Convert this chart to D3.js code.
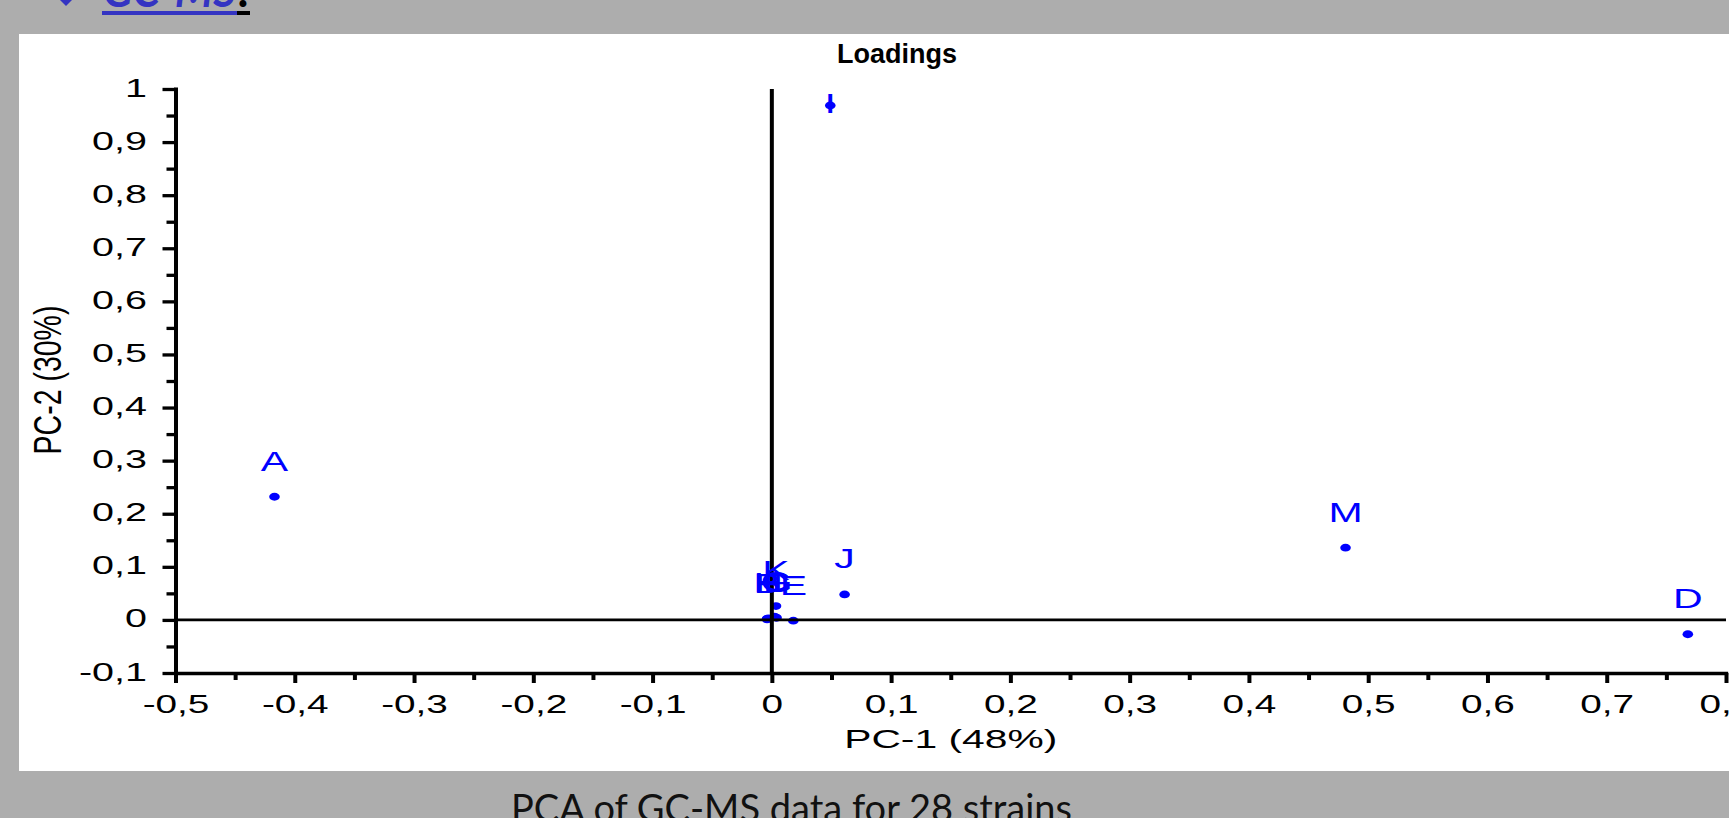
<!DOCTYPE html>
<html>
<head>
<meta charset="utf-8">
<script src="https://cdn.jsdelivr.net/npm/d3@7"></script>
<style>
  body { margin: 0; background: #adadad; overflow: hidden; }
  svg { display: block; }
</style>
</head>
<body>
<div id="chart"></div>
<script>
// loadings (variable names, PC-1, PC-2)
var names = ["A", "B", "C", "D", "E", "F", "G", "H", "I", "J", "K", "L", "M"];
var pc1 = [-0.417, -0.004, 0.003, 0.768, 0.018, -0.004, 0.004, -0.003, 0.049, 0.061, 0.0035, 0.002, 0.481];
var pc2 = [0.232, 0.002, 0.005, -0.027, -0.0015, 0.001, 0.004, 0.003, 0.969, 0.048, 0.026, 0.006, 0.136];

// tick values
var xTicks = [-0.5, -0.4, -0.3, -0.2, -0.1, 0, 0.1, 0.2, 0.3, 0.4, 0.5, 0.6, 0.7, 0.8];
var xMinorTicks = [-0.45, -0.35, -0.25, -0.15, -0.05, 0.05, 0.15, 0.25, 0.35, 0.45, 0.55, 0.65, 0.75];
var yTicks = [-0.1, 0, 0.1, 0.2, 0.3, 0.4, 0.5, 0.6, 0.7, 0.8, 0.9, 1];
var yMinorTicks = [-0.05, 0.05, 0.15, 0.25, 0.35, 0.45, 0.55, 0.65, 0.75, 0.85, 0.95];

var svgWidth = 1729;
var svgHeight = 818;

var margin = {
  top: 89,
  right: 3,
  bottom: 145,
  left: 175.5
};

var width = svgWidth - margin.left - margin.right;
var height = svgHeight - margin.top - margin.bottom;

var font = "'Liberation Sans', Arial, sans-serif";

var svg = d3.select("#chart")
    .append("svg")
    .attr("width", svgWidth)
    .attr("height", svgHeight);

// white panel behind the chart
svg.append("rect")
    .attr("x", 19)
    .attr("y", 34)
    .attr("width", svgWidth - 19)
    .attr("height", 737)
    .attr("fill", "#ffffff");

// slide heading, cut by the top edge
svg.append("path")
    .attr("d", "M66,-12L75,-3L66,6L57,-3Z")
    .attr("fill", "#3434c2");

svg.append("text")
    .attr("x", 103)
    .attr("y", 7)
    .attr("textLength", 133)
    .attr("lengthAdjust", "spacingAndGlyphs")
    .style("font-family", "Lato, 'Open Sans', sans-serif")
    .style("font-weight", "bold")
    .style("font-style", "italic")
    .style("font-size", "46px")
    .attr("fill", "#3434c2")
    .text("GC-MS");

svg.append("text")
    .attr("x", 237)
    .attr("y", 7)
    .style("font-family", "Lato, 'Open Sans', sans-serif")
    .style("font-weight", "bold")
    .style("font-size", "46px")
    .attr("fill", "#000")
    .text(":");

svg.append("rect").attr("x", 102).attr("y", 11).attr("width", 135).attr("height", 4).attr("fill", "#3434c2");
svg.append("rect").attr("x", 237).attr("y", 11).attr("width", 13).attr("height", 4).attr("fill", "#000");

// caption under the panel
svg.append("text")
    .attr("x", 511)
    .attr("y", 822)
    .attr("textLength", 561)
    .attr("lengthAdjust", "spacingAndGlyphs")
    .style("font-family", "Lato, 'Open Sans', sans-serif")
    .style("font-size", "38px")
    .attr("fill", "#111")
    .text("PCA of GC-MS data for 28 strains");

var chartGroup = svg.append("g")
    .attr("transform", `translate(${margin.left}, ${margin.top})`);

// scales
var xLinearScale = d3.scaleLinear().domain([-0.5, 0.8]).range([0, width]);
var yLinearScale = d3.scaleLinear().domain([-0.1, 1]).range([height, 0]);

var fmt = d3.formatLocale({
  decimal: ",",
  thousands: ".",
  grouping: [3],
  currency: ["", ""],
  minus: "-"
}).format(".1~f");

var points = names.map(function(n, i) {
  return { name: n, pc1: pc1[i], pc2: pc2[i] };
});

// dots
chartGroup.selectAll("ellipse")
    .data(points)
    .enter()
    .append("ellipse")
    .attr("cx", d => xLinearScale(d.pc1))
    .attr("cy", d => yLinearScale(d.pc2))
    .attr("rx", 5.3)
    .attr("ry", 3.9)
    .attr("fill", "#0000ff");

// zero lines
chartGroup.append("line")
    .attr("x1", xLinearScale(-0.5))
    .attr("x2", xLinearScale(0.8))
    .attr("y1", yLinearScale(0))
    .attr("y2", yLinearScale(0))
    .attr("stroke", "#000")
    .attr("stroke-width", 2.6);

chartGroup.append("line")
    .attr("x1", xLinearScale(0))
    .attr("x2", xLinearScale(0))
    .attr("y1", yLinearScale(1))
    .attr("y2", yLinearScale(-0.1))
    .attr("stroke", "#000")
    .attr("stroke-width", 4);

// point labels, kept inside the frame
chartGroup.selectAll(".ptLabel")
    .data(points)
    .enter()
    .append("text")
    .attr("class", "ptLabel")
    .attr("transform", d => `translate(${xLinearScale(d.pc1)}, ${Math.max(yLinearScale(d.pc2) - 26, 24)}) scale(1.52,1)`)
    .attr("text-anchor", "middle")
    .style("font-family", font)
    .style("font-size", "27px")
    .attr("fill", "#0000ff")
    .text(d => d.name);

// axes
var leftMinor = d3.axisLeft(yLinearScale).tickValues(yMinorTicks).tickFormat("").tickSize(9).tickSizeOuter(0);
var bottomMinor = d3.axisBottom(xLinearScale).tickValues(xMinorTicks).tickFormat("").tickSize(7).tickSizeOuter(0);
var leftAxis = d3.axisLeft(yLinearScale).tickValues(yTicks).tickFormat(fmt).tickSize(13).tickSizeOuter(0);
var bottomAxis = d3.axisBottom(xLinearScale).tickValues(xTicks).tickFormat(fmt).tickSize(10).tickSizeOuter(0);

var gLeftMinor = chartGroup.append("g").call(leftMinor);
var gBottomMinor = chartGroup.append("g").attr("transform", `translate(0, ${height})`).call(bottomMinor);
gLeftMinor.select(".domain").remove();
gBottomMinor.select(".domain").remove();
gLeftMinor.selectAll("line").attr("stroke-width", 3.3);
gBottomMinor.selectAll("line").attr("stroke-width", 4);

var gLeft = chartGroup.append("g").call(leftAxis);
var gBottom = chartGroup.append("g").attr("transform", `translate(0, ${height})`).call(bottomAxis);

gLeft.attr("font-size", null).attr("font-family", null);
gBottom.attr("font-size", null).attr("font-family", null);

gLeft.select(".domain").attr("stroke-width", 4).attr("stroke-linecap", "square");
gBottom.select(".domain").attr("stroke-width", 3.3).attr("stroke-linecap", "square");
gLeft.selectAll(".tick line").attr("stroke-width", 3.3);
gBottom.selectAll(".tick line").attr("stroke-width", 4);

gLeft.selectAll(".tick text")
    .attr("x", null)
    .attr("dy", "0.28em")
    .attr("transform", "translate(-28.5,0) scale(1.58,1)")
    .style("font-family", font)
    .style("font-size", "25px")
    .attr("fill", "#000");

gBottom.selectAll(".tick text")
    .attr("y", null)
    .attr("dy", null)
    .attr("transform", "translate(0,40) scale(1.55,1)")
    .style("font-family", font)
    .style("font-size", "25px")
    .attr("fill", "#000");

// titles
chartGroup.append("text")
    .attr("transform", `translate(${897 - margin.left}, ${63 - margin.top})`)
    .attr("text-anchor", "middle")
    .style("font-family", font)
    .style("font-weight", "bold")
    .style("font-size", "27px")
    .attr("fill", "#000")
    .text("Loadings");

chartGroup.append("text")
    .attr("transform", `translate(${width / 2}, ${height + 75.3}) scale(1.6,1)`)
    .attr("text-anchor", "middle")
    .style("font-family", font)
    .style("font-size", "25.5px")
    .attr("fill", "#000")
    .text("PC-1 (48%)");

chartGroup.append("text")
    .attr("transform", `translate(${60.8 - margin.left}, ${380 - margin.top}) rotate(-90) scale(1,1.36)`)
    .attr("text-anchor", "middle")
    .style("font-family", font)
    .style("font-size", "28.5px")
    .attr("fill", "#000")
    .text("PC-2 (30%)");
</script>
</body>
</html>
